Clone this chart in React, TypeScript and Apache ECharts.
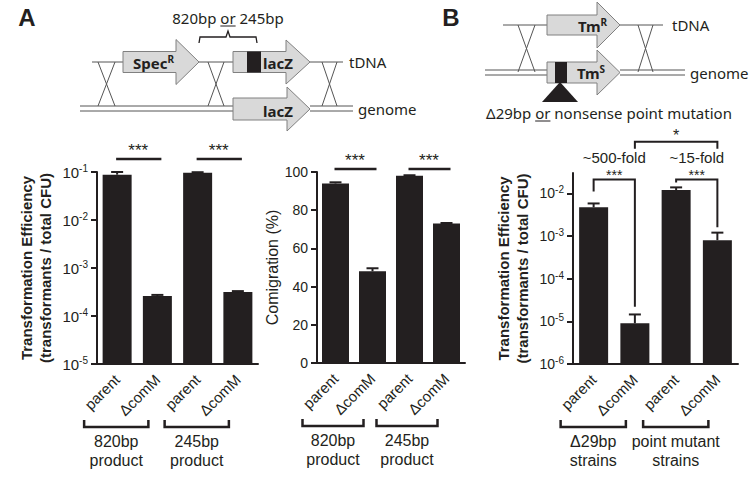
import React, { useEffect, useRef } from 'react';
import * as echarts from 'echarts';

// ---------- data ----------
const CATEGORIES = ['parent', 'ΔcomM', 'parent', 'ΔcomM'];
const A_EFF = [0.088, 2.6e-4, 0.097, 3.15e-4];
const A_EFF_HI = [0.1, 2.75e-4, 0.099, 3.3e-4];
const A_COMIG = [94, 48, 98, 73];
const A_COMIG_HI = [94.6, 49.6, 98.3, 73.3];
const B_EFF = [4.7e-3, 9e-6, 1.2e-2, 8e-4];
const B_EFF_HI = [5.8e-3, 1.45e-5, 1.38e-2, 1.2e-3];
const LOG_TICKS_A = [1e-5, 1e-4, 1e-3, 1e-2, 1e-1];
const LOG_TICKS_B = [1e-6, 1e-5, 1e-4, 1e-3, 1e-2];
const COMIG_TICKS = [0, 20, 40, 60, 80, 100];
const A_GROUPS = [['820bp', 'product'], ['245bp', 'product']];
const B_GROUPS = [['Δ29bp', 'strains'], ['point mutant', 'strains']];
const A_EFF_SIG = [{ from: 0, to: 1, y: 0.187, label: '***' }, { from: 2, to: 3, y: 0.187, label: '***' }];
const A_COMIG_SIG = [{ from: 0, to: 1, y: 101.6, label: '***' }, { from: 2, to: 3, y: 101.6, label: '***' }];
const B_BRACKETS = [
  { from: 0, to: 1, y: 0.0212, leftEnd: 0.0111, rightEnd: 2.2e-5, stars: '***', fold: '~500-fold' },
  { from: 2, to: 3, y: 0.0212, leftEnd: 0.018, rightEnd: 1.6e-3, stars: '***', fold: '~15-fold' },
];
const B_TOP = { from: 1.3, to: 3, y: 0.162, end: 0.111, stars: '*' };

// ---------- styles ----------
const FONT = '"Liberation Sans", Arial, sans-serif';
const DFONT = '"Noto Sans", "Open Sans", sans-serif';
const INK = '#231f20';
const LINE = '#555555';
const AFILL = '#d9d9d9';
const ASTROKE = '#808080';

const supFmt = (v: number) => `{b|10}{s|${Math.round(Math.log10(v))}}`;

function logY(gridIndex: number, min: number, max: number, ticks: number[], fs: number, nameGap: number) {
  return {
    type: 'log', gridIndex, logBase: 10, min, max,
    axisLine: { show: true, lineStyle: { color: INK, width: 2 } },
    axisTick: { show: true, length: 6, lineStyle: { color: INK, width: 2 }, customValues: ticks },
    axisLabel: {
      customValues: ticks, formatter: supFmt, margin: 9,
      rich: {
        b: { fontSize: fs, fontFamily: FONT, color: INK, lineHeight: fs + 3 },
        s: { fontSize: 10, fontFamily: FONT, color: INK, verticalAlign: 'top', lineHeight: 10 },
      },
    },
    splitLine: { show: false },
    name: 'Transformation Efficiency\n(transformants / total CFU)',
    nameLocation: 'middle', nameGap,
    nameTextStyle: { fontWeight: 'bold', fontSize: 15, lineHeight: 19, fontFamily: FONT, color: INK },
  };
}

function catX(gridIndex: number) {
  return {
    type: 'category', gridIndex, data: CATEGORIES,
    axisLine: { onZero: false, lineStyle: { color: INK, width: 2 } },
    axisTick: { alignWithLabel: true, length: 7, lineStyle: { color: INK, width: 2 } },
    axisLabel: { rotate: 45, margin: 13, fontSize: 15, color: INK, fontFamily: FONT },
    splitLine: { show: false },
  };
}

const barRender = (w: number, base: number) => (params: any, api: any) => {
  const i = api.value(0);
  const p = api.coord([i, api.value(1)]);
  const b = api.coord([i, base]);
  return { type: 'rect', shape: { x: p[0] - w / 2, y: p[1], width: w, height: b[1] - p[1] }, style: { fill: INK } };
};

const errRender = (cap: number) => (params: any, api: any) => {
  const i = api.value(0);
  const p = api.coord([i, api.value(1)]);
  const h = api.coord([i, api.value(2)]);
  return {
    type: 'group',
    children: [
      { type: 'line', shape: { x1: p[0], y1: p[1], x2: h[0], y2: h[1] }, style: { stroke: INK, lineWidth: 2 } },
      { type: 'line', shape: { x1: h[0] - cap / 2, y1: h[1], x2: h[0] + cap / 2, y2: h[1] }, style: { stroke: INK, lineWidth: 2 } },
    ],
  };
};

function tw(t: string, font: string) {
  const c = document.createElement('canvas').getContext('2d') as CanvasRenderingContext2D;
  c.font = font;
  return c.measureText(t).width;
}

function txt(text: string, x: number, y: number, fs: number, opts: any = {}) {
  const style: any = {
    text, x, y, fontSize: fs, fontFamily: opts.family || FONT, fontWeight: opts.weight || 'normal',
    fill: opts.fill || INK, textAlign: opts.align || 'center', textVerticalAlign: opts.valign || 'middle',
  };
  if (opts.rich) style.rich = opts.rich;
  return { type: 'text', silent: true, style };
}

function seg(x1: number, y1: number, x2: number, y2: number, color = LINE, w = 1) {
  return { type: 'line', silent: true, shape: { x1, y1, x2, y2 }, style: { stroke: color, lineWidth: w } };
}

function arrow(x0: number, xh: number, xt: number, yc: number, bh: number, hh: number) {
  return {
    type: 'polygon', silent: true,
    shape: { points: [[x0, yc - bh], [xh, yc - bh], [xh, yc - hh], [xt, yc], [xh, yc + hh], [xh, yc + bh], [x0, yc + bh]] },
    style: { fill: AFILL, stroke: ASTROKE, lineWidth: 1 },
  };
}

function cross(xa: number, xb: number, y1: number, y2: number) {
  return [seg(xa, y1, xb, y2), seg(xb, y1, xa, y2)];
}

function supText(main: string, sup: string, x: number, y: number) {
  return {
    type: 'text', silent: true,
    style: {
      text: `{m|${main}}{s|${sup}}`, x, y, textAlign: 'left', textVerticalAlign: 'middle',
      rich: {
        m: { fontSize: 15, fontWeight: 'bold', fontFamily: DFONT, fill: INK, lineHeight: 18 },
        s: { fontSize: 10, fontWeight: 'bold', fontFamily: DFONT, fill: INK, lineHeight: 10, verticalAlign: 'top' },
      },
    },
  };
}

function underlined(parts: [string, string, string], cx: number, cy: number, fs: number) {
  const font = `${fs}px ${DFONT}`;
  const w0 = tw(parts[0], font), w1 = tw(parts[1], font), w2 = tw(parts[2], font);
  const start = cx - (w0 + w1 + w2) / 2;
  return [
    txt(parts.join(''), cx, cy, fs, { family: DFONT }),
    seg(start + w0, cy + 8, start + w0 + w1, cy + 8, INK, 1),
  ];
}

function diagram() {
  const els: any[] = [];
  // Panel A diagram
  els.push(txt('A', 27, 17, 24, { weight: 'bold' }));
  els.push(...underlined(['820bp ', 'or', ' 245bp'], 228, 18, 15));
  els.push({ type: 'polyline', silent: true, shape: { points: [[199, 43], [200, 37], [226, 37], [228, 31], [230, 37], [256, 37], [257, 43]] }, style: { stroke: INK, lineWidth: 1.3, fill: null } });
  els.push(seg(92, 62, 123, 62), seg(199, 62, 233, 62), seg(310, 62, 343, 62));
  els.push(seg(80, 106, 233, 106), seg(80, 111, 233, 111), seg(310, 106, 353, 106), seg(310, 111, 353, 111));
  els.push(...cross(98, 115, 62, 106), ...cross(208, 224, 62, 106), ...cross(322, 337, 62, 106));
  els.push(arrow(123, 176, 199, 62, 10.5, 22.5));
  els.push(arrow(233, 286, 310, 62, 10.5, 22));
  els.push({ type: 'rect', silent: true, shape: { x: 247, y: 51.5, width: 14, height: 21 }, style: { fill: INK } });
  els.push(arrow(233, 287, 310, 109, 11, 22));
  els.push(supText('Spec', 'R', 133, 63));
  els.push(txt('lacZ', 263, 63, 15, { family: DFONT, weight: 'bold', align: 'left' }));
  els.push(txt('lacZ', 263, 111, 15, { family: DFONT, weight: 'bold', align: 'left' }));
  els.push(txt('tDNA', 349, 62, 15, { family: DFONT, align: 'left' }));
  els.push(txt('genome', 358, 109, 15, { family: DFONT, align: 'left' }));

  // Panel B diagram
  els.push(txt('B', 451, 17, 24, { weight: 'bold' }));
  els.push(seg(503, 25, 547, 25), seg(620, 25, 663, 25));
  els.push(seg(485, 70, 547, 70), seg(485, 75, 547, 75), seg(620, 70, 685, 70), seg(620, 75, 685, 75));
  els.push(...cross(518, 535, 25, 72), ...cross(638, 653, 25, 72));
  els.push(arrow(547, 597, 620, 25, 10, 23));
  els.push(arrow(547, 597, 620, 72.5, 10.5, 22.5));
  els.push({ type: 'rect', silent: true, shape: { x: 555, y: 62, width: 12, height: 21 }, style: { fill: INK } });
  els.push({ type: 'polygon', silent: true, shape: { points: [[560, 82], [542, 102], [578, 102]] }, style: { fill: INK } });
  els.push(supText('Tm', 'R', 578, 26));
  els.push(supText('Tm', 'S', 577, 73));
  els.push(txt('tDNA', 672, 25, 15, { family: DFONT, align: 'left' }));
  els.push(txt('genome', 690, 73, 15, { family: DFONT, align: 'left' }));
  els.push(...underlined(['Δ29bp ', 'or', ' nonsense point mutation'], 609, 113, 15));
  return els;
}

export default function App() {
  const ref = useRef<HTMLDivElement>(null);
  useEffect(() => {
    if (!ref.current) return;
    const chart = echarts.init(ref.current, null, { renderer: 'svg' });
    const option: any = {
      animation: false,
      backgroundColor: '#ffffff',
      textStyle: { fontFamily: FONT },
      grid: [
        { left: 97, top: 172, width: 161, height: 192 },
        { left: 317, top: 172, width: 148, height: 191 },
        { left: 573, top: 173, width: 165, height: 191 },
      ],
      xAxis: [catX(0), catX(1), catX(2)],
      yAxis: [
        logY(0, 1e-5, 0.1, LOG_TICKS_A, 15, 42),
        {
          type: 'value', gridIndex: 1, min: 0, max: 100, interval: 20,
          axisLine: { show: true, lineStyle: { color: INK, width: 2 } },
          axisTick: { show: true, length: 6, lineStyle: { color: INK, width: 2 } },
          axisLabel: { margin: 9, fontSize: 14, color: INK, fontFamily: FONT, customValues: COMIG_TICKS },
          splitLine: { show: false },
          name: 'Comigration (%)', nameLocation: 'middle', nameGap: 37,
          nameTextStyle: { fontSize: 16, fontFamily: FONT, color: INK },
        },
        logY(2, 1e-6, 0.03, LOG_TICKS_B, 14, 41),
      ],
      series: [
        { type: 'custom', xAxisIndex: 0, yAxisIndex: 0, data: A_EFF.map((v, i) => [i, v]), renderItem: barRender(29, 1e-5) },
        { type: 'custom', xAxisIndex: 0, yAxisIndex: 0, data: A_EFF.map((v, i) => [i, v, A_EFF_HI[i]]), renderItem: errRender(12) },
        { type: 'bar', xAxisIndex: 1, yAxisIndex: 1, data: A_COMIG, barWidth: 27, itemStyle: { color: INK } },
        { type: 'custom', xAxisIndex: 1, yAxisIndex: 1, data: A_COMIG.map((v, i) => [i, v, A_COMIG_HI[i]]), renderItem: errRender(12) },
        { type: 'custom', xAxisIndex: 2, yAxisIndex: 2, data: B_EFF.map((v, i) => [i, v]), renderItem: barRender(29, 1e-6) },
        { type: 'custom', xAxisIndex: 2, yAxisIndex: 2, data: B_EFF.map((v, i) => [i, v, B_EFF_HI[i]]), renderItem: errRender(12) },
      ],
    };
    chart.setOption(option);

    const conv = (g: number, v: [number, number]) =>
      chart.convertToPixel({ xAxisIndex: g, yAxisIndex: g } as any, v) as unknown as number[];
    const els: any[] = diagram();

    // significance lines panel A
    const sigLines = (g: number, list: typeof A_EFF_SIG, textOff: number) => {
      list.forEach((s) => {
        const p1 = conv(g, [s.from, s.y]);
        const p2 = conv(g, [s.to, s.y]);
        els.push(seg(p1[0] - 1, p1[1], p2[0] + 4, p1[1], INK, 2.5));
        els.push(txt(s.label, (p1[0] + p2[0]) / 2 + 1, p1[1] - textOff, 17));
      });
    };
    sigLines(0, A_EFF_SIG, 8);
    sigLines(1, A_COMIG_SIG, 8);

    // brackets panel B
    B_BRACKETS.forEach((b) => {
      const top1 = conv(2, [b.from, b.y]);
      const top2 = conv(2, [b.to, b.y]);
      const e1 = conv(2, [b.from, b.leftEnd]);
      const e2 = conv(2, [b.to, b.rightEnd]);
      els.push({ type: 'polyline', silent: true, shape: { points: [[e1[0], e1[1]], [top1[0], top1[1]], [top2[0], top2[1]], [e2[0], e2[1]]] }, style: { stroke: INK, lineWidth: 2, fill: null } });
      els.push(txt(b.stars, (top1[0] + top2[0]) / 2, top1[1] - 4, 14));
      els.push(txt(b.fold, (top1[0] + top2[0]) / 2, top1[1] - 22, 15));
    });
    {
      const t1 = conv(2, [B_TOP.from, B_TOP.y]);
      const t2 = conv(2, [B_TOP.to, B_TOP.y]);
      const e1 = conv(2, [B_TOP.from, B_TOP.end]);
      const e2 = conv(2, [B_TOP.to, B_TOP.end]);
      els.push({ type: 'polyline', silent: true, shape: { points: [[e1[0], e1[1]], [t1[0], t1[1]], [t2[0], t2[1]], [e2[0], e2[1]]] }, style: { stroke: INK, lineWidth: 2, fill: null } });
      els.push(txt(B_TOP.stars, (t1[0] + t2[0]) / 2, t1[1] - 6, 16));
    }

    // group brackets below x axes
    const groups = (g: number, list: string[][], base: number) => {
      const bottom = conv(g, [0, base])[1];
      list.forEach((lines, k) => {
        const c1 = conv(g, [2 * k, base])[0];
        const c2 = conv(g, [2 * k + 1, base])[0];
        const xl = c1 - 33, xr = c2 - 9, yb = bottom + 63;
        els.push({ type: 'polyline', silent: true, shape: { points: [[xl, yb - 7], [xl, yb], [xr, yb], [xr, yb - 7]] }, style: { stroke: INK, lineWidth: 2.5, fill: null } });
        els.push(txt(lines[0], (xl + xr) / 2, bottom + 77, 16));
        els.push(txt(lines[1], (xl + xr) / 2, bottom + 96, 16));
      });
    };
    groups(0, A_GROUPS, 1e-5);
    groups(1, A_GROUPS, 0);
    groups(2, B_GROUPS, 1e-6);

    chart.setOption({ graphic: { elements: els } });
    return () => chart.dispose();
  }, []);
  return <div ref={ref} style={{ position: 'fixed', left: 0, top: 0, width: 752, height: 488, background: '#fff' }} />;
}
